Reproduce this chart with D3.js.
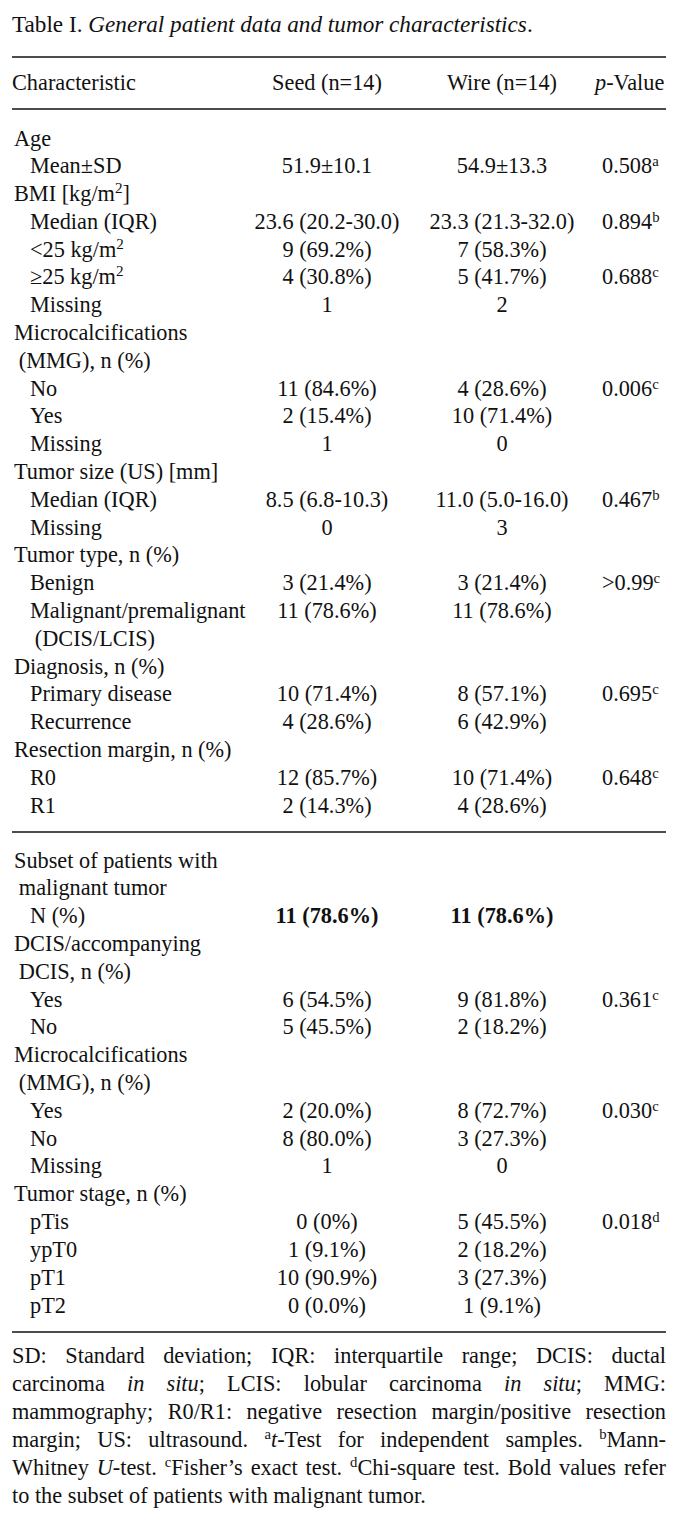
<!DOCTYPE html>
<html><head><meta charset="utf-8">
<script src="https://cdn.jsdelivr.net/npm/d3@7"></script>
<style>
html,body{margin:0;padding:0;background:#fff;}
svg text{font-family:"Liberation Serif","Times New Roman",serif;fill:#111;}
</style></head>
<body><svg id="c" width="683" height="1527"></svg>
<script>
// ---------------- data ----------------
const titlePlain = "Table I. ";
const titleItalic = "General patient data and tumor characteristics";
const headers = ["Characteristic", "Seed (n=14)", "Wire (n=14)", "-Value"];

// main section
const mainLabels = ["Age","Mean±SD","BMI [kg/m|2|]","Median (IQR)","<25 kg/m|2|","≥25 kg/m|2|","Missing",
  "Microcalcifications"," (MMG), n (%)","No","Yes","Missing","Tumor size (US) [mm]","Median (IQR)","Missing",
  "Tumor type, n (%)","Benign","Malignant/premalignant"," (DCIS/LCIS)","Diagnosis, n (%)","Primary disease",
  "Recurrence","Resection margin, n (%)","R0","R1"];
const mainIndent = [0,1,0,1,1,1,1,0,0.3,1,1,1,0,1,1,0,1,1,1.3,0,1,1,0,1,1];
const mainSeed = ["","51.9±10.1","","23.6 (20.2-30.0)","9 (69.2%)","4 (30.8%)","1","","","11 (84.6%)","2 (15.4%)","1",
  "","8.5 (6.8-10.3)","0","","3 (21.4%)","11 (78.6%)","","","10 (71.4%)","4 (28.6%)","","12 (85.7%)","2 (14.3%)"];
const mainWire = ["","54.9±13.3","","23.3 (21.3-32.0)","7 (58.3%)","5 (41.7%)","2","","","4 (28.6%)","10 (71.4%)","0",
  "","11.0 (5.0-16.0)","3","","3 (21.4%)","11 (78.6%)","","","8 (57.1%)","6 (42.9%)","","10 (71.4%)","4 (28.6%)"];
const mainP = ["","0.508","","0.894","","0.688","","","","0.006","","","","0.467","","",">0.99","","","","0.695","","","0.648",""];
const mainPNote = ["","a","","b","","c","","","","c","","","","b","","","c","","","","c","","","c",""];

// subset section
const subLabels = ["Subset of patients with"," malignant tumor","N (%)","DCIS/accompanying"," DCIS, n (%)","Yes","No",
  "Microcalcifications"," (MMG), n (%)","Yes","No","Missing","Tumor stage, n (%)","pTis","ypT0","pT1","pT2"];
const subIndent = [0,0.3,1,0,0.3,1,1,0,0.3,1,1,1,0,1,1,1,1];
const subSeed = ["","","11 (78.6%)","","","6 (54.5%)","5 (45.5%)","","","2 (20.0%)","8 (80.0%)","1","","0 (0%)","1 (9.1%)","10 (90.9%)","0 (0.0%)"];
const subWire = ["","","11 (78.6%)","","","9 (81.8%)","2 (18.2%)","","","8 (72.7%)","3 (27.3%)","0","","5 (45.5%)","2 (18.2%)","3 (27.3%)","1 (9.1%)"];
const subP = ["","","","","","0.361","","","","0.030","","","","0.018","","",""];
const subPNote = ["","","","","","c","","","","c","","","","d","","",""];
const subBold = [false,false,true,false,false,false,false,false,false,false,false,false,false,false,false,false,false];

// footnote lines: _italic_ and ^sup^ runs
const footLines = [
  "SD: Standard deviation; IQR: interquartile range; DCIS: ductal",
  "carcinoma _in_ _situ_; LCIS: lobular carcinoma _in_ _situ_; MMG:",
  "mammography; R0/R1: negative resection margin/positive resection",
  "margin; US: ultrasound. ^a^_t_-Test for independent samples. ^b^Mann-",
  "Whitney _U_-test. ^c^Fisher’s exact test. ^d^Chi-square test. Bold values refer",
  "to the subset of patients with malignant tumor."
];

// ---------------- drawing ----------------
const svg = d3.select("#c");
const FS = 22.3;
const left = 12, right = 666;

const colX = d3.scaleOrdinal().domain(["label","seed","wire","p","pHead"]).range([left, 327, 502, 602, 595]);
const indentX = d3.scaleLinear().domain([0,1]).range([14, 30]);
const yMain = d3.scaleLinear().domain([0, 24]).range([138, 805]);
const ySub = d3.scaleLinear().domain([0, 16]).range([860, 1305]);
const yFoot = d3.scaleLinear().domain([0, 5]).range([1355.5, 1495.5]);
const BASE = 7.5;

// title
const t = svg.append("text").attr("x", left).attr("y", 32).style("font-size", "23.2px");
t.append("tspan").text(titlePlain);
t.append("tspan").style("font-style", "italic").text(titleItalic);
t.append("tspan").text(".");

// rules
const rules = [57, 109, 832, 1332];
svg.selectAll("line.rule").data(rules).join("line").attr("class", "rule")
  .attr("x1", left).attr("x2", right).attr("y1", d => d).attr("y2", d => d)
  .attr("stroke", "#111").attr("stroke-width", 1.6);

// header
const hy = 90;
svg.append("text").attr("x", colX("label")).attr("y", hy).style("font-size", FS + "px").text(headers[0]);
svg.append("text").attr("x", colX("seed")).attr("y", hy).attr("text-anchor", "middle").style("font-size", FS + "px").text(headers[1]);
svg.append("text").attr("x", colX("wire")).attr("y", hy).attr("text-anchor", "middle").style("font-size", FS + "px").text(headers[2]);
const ph = svg.append("text").attr("x", colX("pHead")).attr("y", hy).style("font-size", FS + "px");
ph.append("tspan").style("font-style", "italic").text("p");
ph.append("tspan").text(headers[3]);

function labelText(sel, s) {
  const parts = s.split("|");
  parts.forEach((p, i) => {
    if (!p) return;
    if (i % 2 === 1) sel.append("tspan").attr("dy", -8).style("font-size", (FS * 0.68) + "px").text(p);
    else {
      const ts = sel.append("tspan").text(p);
      if (i > 0) ts.attr("dy", 8);
    }
  });
}

function drawSection(labels, indent, seed, wire, pv, pn, bold, y) {
  const g = svg.append("g");
  const rows = labels.map((l, i) => ({ i, l, ind: indent[i], s: seed[i], w: wire[i], p: pv[i], n: pn[i], b: bold ? bold[i] : false }));
  rows.forEach(r => {
    const yy = y(r.i) + BASE;
    const lt = g.append("text").attr("x", indentX(r.ind)).attr("y", yy).style("font-size", FS + "px");
    labelText(lt, r.l.replace(/^ /, ""));
    if (r.s) g.append("text").attr("x", colX("seed")).attr("y", yy).attr("text-anchor", "middle")
      .style("font-size", FS + "px").style("font-weight", r.b ? "bold" : "normal").text(r.s);
    if (r.w) g.append("text").attr("x", colX("wire")).attr("y", yy).attr("text-anchor", "middle")
      .style("font-size", FS + "px").style("font-weight", r.b ? "bold" : "normal").text(r.w);
    if (r.p) {
      const pt = g.append("text").attr("x", colX("p")).attr("y", yy).style("font-size", FS + "px");
      pt.append("tspan").text(r.p);
      pt.append("tspan").attr("dy", -7).style("font-size", (FS * 0.66) + "px").text(r.n);
    }
  });
}
drawSection(mainLabels, mainIndent, mainSeed, mainWire, mainP, mainPNote, null, yMain);
drawSection(subLabels, subIndent, subSeed, subWire, subP, subPNote, subBold, ySub);

// footnote (justified)
function parseWord(w) {
  const runs = [];
  const re = /(\^[^^]+\^)|(_[^_]+_)|([^^_]+)/g;
  let m;
  while ((m = re.exec(w))) {
    if (m[1]) runs.push({ t: m[1].slice(1, -1), st: "sup" });
    else if (m[2]) runs.push({ t: m[2].slice(1, -1), st: "it" });
    else runs.push({ t: m[3], st: "n" });
  }
  return runs;
}
footLines.forEach((line, li) => {
  const words = line.split(" ");
  const yy = yFoot(li) + BASE;
  const nodes = words.map(w => {
    const tx = svg.append("text").attr("y", yy).style("font-size", FS + "px");
    let raised = false;
    parseWord(w).forEach(r => {
      const ts = tx.append("tspan").text(r.t);
      if (r.st === "sup") { ts.attr("dy", -8).style("font-size", (FS * 0.66) + "px"); raised = true; }
      else {
        if (raised) { ts.attr("dy", 8); raised = false; }
        if (r.st === "it") ts.style("font-style", "italic");
      }
    });
    return tx;
  });
  const widths = nodes.map(n => n.node().getComputedTextLength());
  const total = d3.sum(widths);
  const last = li === footLines.length - 1;
  const gap = last ? FS * 0.25 : (right - left - total) / (words.length - 1);
  let x = left;
  nodes.forEach((n, i) => { n.attr("x", x); x += widths[i] + gap; });
});
</script></body></html>
